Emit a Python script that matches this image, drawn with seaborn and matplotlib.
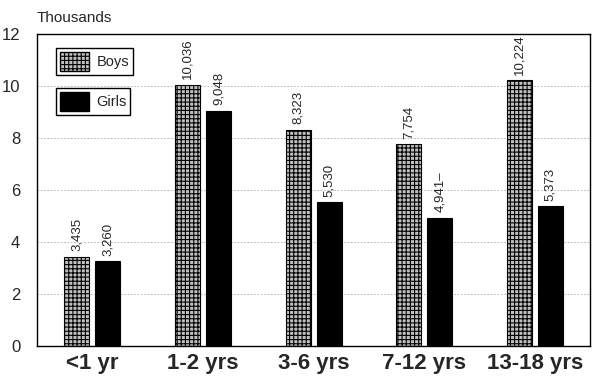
import pandas as pd
import matplotlib.pyplot as plt
import seaborn as sns
from matplotlib.patches import Patch

# Data (values in thousands)
age_groups = ['<1 yr', '1-2 yrs', '3-6 yrs', '7-12 yrs', '13-18 yrs']
boys = [3.435, 10.036, 8.323, 7.754, 10.224]
girls = [3.260, 9.048, 5.530, 4.941, 5.373]
boys_labels = ['3,435', '10,036', '8,323', '7,754', '10,224']
girls_labels = ['3,260', '9,048', '5,530', '4,941\u2013', '5,373']

df = pd.DataFrame({
    'Age': age_groups * 2,
    'Value': boys + girls,
    'Sex': ['Boys'] * len(boys) + ['Girls'] * len(girls),
})

sns.set_style("white")
plt.rcParams['font.family'] = ['Liberation Sans', 'DejaVu Sans']
plt.rcParams['hatch.linewidth'] = 0.8

fig = plt.figure(figsize=(5.95, 3.77), dpi=100)
ax = fig.add_axes([0.062, 0.082, 0.93, 0.828])

sns.barplot(data=df, x='Age', y='Value', hue='Sex', order=age_groups,
            hue_order=['Boys', 'Girls'], palette=['#c0c0c0', 'black'],
            width=0.56, gap=0.19, edgecolor='black', linewidth=0.8,
            legend=False, ax=ax, zorder=2)

# brick-like hatch on boys bars
for p in ax.containers[0]:
    p.set_hatch('++++')

for cont, labels in zip(ax.containers, [boys_labels, girls_labels]):
    ax.bar_label(cont, labels=labels, rotation=90, padding=4, fontsize=9.5)

ax.set_ylim(0, 12)
ax.set_yticks(range(0, 13, 2))
ax.set_xlim(-0.5, 4.5)
ax.yaxis.grid(True, linestyle=(0, (2, 2)), color='#aaaaaa', linewidth=0.6, zorder=0)
ax.set_axisbelow(True)
ax.set_xlabel('')
ax.set_ylabel('')
ax.tick_params(axis='y', labelsize=12, length=0, pad=12)
ax.tick_params(axis='x', labelsize=16, length=0, pad=5)
for t in ax.get_xticklabels():
    t.set_fontweight('bold')
for s in ax.spines.values():
    s.set_color('black')
    s.set_linewidth(1)

fig.text(0.062, 0.935, 'Thousands', fontsize=11, ha='left', va='bottom')

# two separate legend boxes
leg_kw = dict(loc='upper left', fancybox=False, edgecolor='black', fontsize=10.5,
              handlelength=2.0, handleheight=1.7, borderpad=0.25, handletextpad=0.5,
              framealpha=1)
leg1 = ax.legend(handles=[Patch(facecolor='#c0c0c0', edgecolor='black', hatch='++++')],
                 labels=['Boys'], bbox_to_anchor=(0.022, 0.978), **leg_kw)
ax.add_artist(leg1)
ax.legend(handles=[Patch(facecolor='black', edgecolor='black')],
          labels=['Girls'], bbox_to_anchor=(0.022, 0.850), **leg_kw)

fig.savefig('out.png', dpi=100)
